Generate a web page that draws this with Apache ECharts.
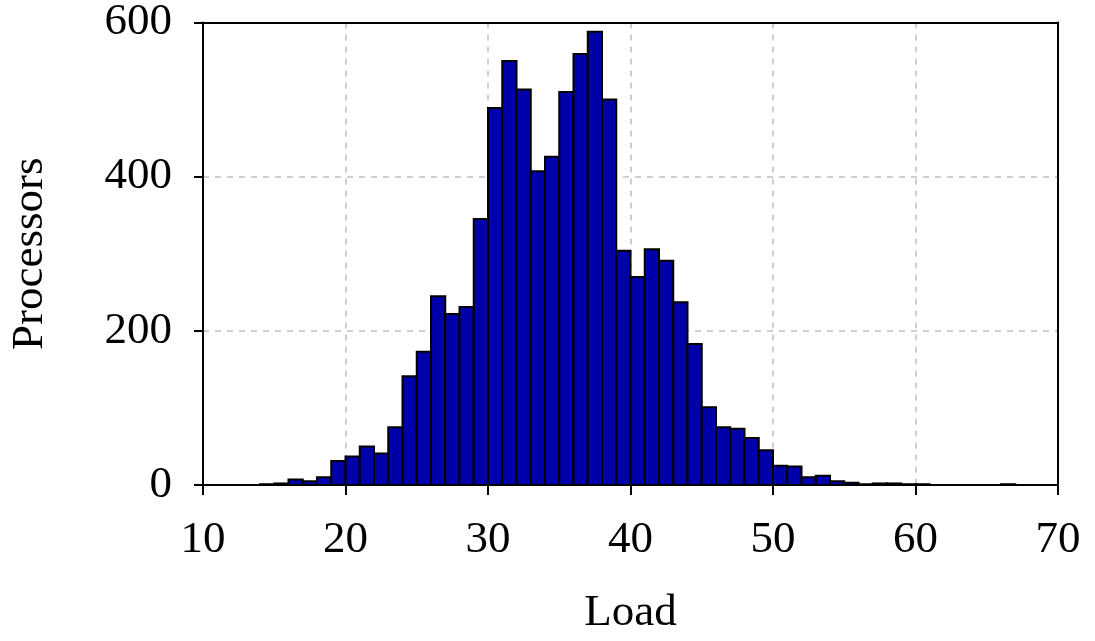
<!DOCTYPE html>
<html>
<head>
<meta charset="utf-8">
<script src="https://cdn.jsdelivr.net/npm/echarts@6/dist/echarts.min.js"></script>
<style>
  html, body { margin: 0; padding: 0; background: #fff; }
  #chart { width: 1095px; height: 641px; }
</style>
</head>
<body>
<div id="chart"></div>
<script>
// histogram bins: lower edge of each 1-unit bin, and processor count
var binStarts = [14, 15, 16, 17, 18, 19, 20, 21, 22, 23, 24, 25, 26, 27, 28, 29,
  30, 31, 32, 33, 34, 35, 36, 37, 38, 39, 40, 41, 42, 43, 44, 45, 46, 47, 48, 49,
  50, 51, 52, 53, 54, 55, 56, 57, 58, 59, 60, 61, 62, 63, 64, 65, 66];
var counts = [1, 2, 7, 5, 10, 31, 37, 50, 41, 75, 141, 173, 245, 222, 231, 345,
  489, 550, 513, 407, 426, 510, 559, 588, 500, 304, 270, 306, 291, 237, 183, 101,
  75, 73, 61, 45, 25, 24, 10, 12, 5, 3, 1, 2, 2, 1, 1, 0, 0, 0, 0, 0, 1];
var binWidth = 1;

var serif = 'Liberation Serif';
var gridLine = { show: true, lineStyle: { color: '#c0c0c0', type: [6, 6], width: 1.5 } };

// frame-only axis (top / right edges of the box)
function frameAxis(pos, min, max) {
  return {
    type: 'value', position: pos, min: min, max: max,
    axisLine: { show: true, onZero: false, lineStyle: { color: '#000', width: 2 } },
    axisTick: { show: false }, axisLabel: { show: false }, splitLine: { show: false },
    z: 10
  };
}

var chart = echarts.init(document.getElementById('chart'));
chart.setOption({
  animation: false,
  grid: { left: 195, right: 37, top: 21, bottom: 155 },
  xAxis: [{
    type: 'value',
    min: 10, max: 70, interval: 10,
    name: 'Load',
    nameLocation: 'middle',
    nameGap: 106,
    nameTextStyle: { fontFamily: serif, fontSize: 45, color: '#000' },
    axisLine: { show: true, onZero: false, lineStyle: { color: '#000', width: 2 } },
    axisTick: { show: true, length: 10, lineStyle: { color: '#000', width: 2 } },
    axisLabel: { fontFamily: serif, fontSize: 45, color: '#000', margin: 33 },
    splitLine: gridLine
  }, frameAxis('top', 10, 70)],
  yAxis: [{
    type: 'value',
    min: 0, max: 600, interval: 200,
    name: 'Processors',
    nameLocation: 'middle',
    nameGap: 150,
    nameTextStyle: { fontFamily: serif, fontSize: 45, color: '#000' },
    axisLine: { show: true, onZero: false, lineStyle: { color: '#000', width: 2 } },
    axisTick: { show: true, length: 9, lineStyle: { color: '#000', width: 2 } },
    axisLabel: { fontFamily: serif, fontSize: 45, color: '#000', margin: 31 },
    splitLine: gridLine
  }, frameAxis('right', 0, 600)],
  series: [{
    type: 'custom',
    data: binStarts.map(function (x, i) { return [x, counts[i]]; }),
    encode: { x: 0, y: 1 },
    renderItem: function (params, api) {
      var x0 = api.value(0);
      var v = api.value(1);
      var p0 = api.coord([x0, v]);
      var p1 = api.coord([x0 + binWidth, 0]);
      return {
        type: 'rect',
        shape: { x: p0[0], y: p0[1], width: p1[0] - p0[0], height: p1[1] - p0[1] },
        style: { fill: '#0000aa', stroke: '#000', lineWidth: 2 }
      };
    }
  }]
});
</script>
</body>
</html>
